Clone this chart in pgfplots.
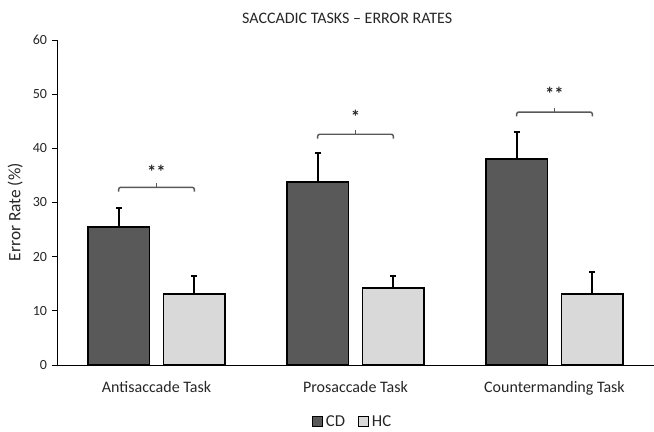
\documentclass[border=0pt]{standalone}
\usepackage{fontspec}
\setmainfont{Carlito}
\usepackage{pgfplots}
\pgfplotsset{compat=1.18}
\definecolor{cdfill}{HTML}{595959}
\definecolor{hcfill}{HTML}{D9D9D9}
\definecolor{brk}{HTML}{595959}
\begin{document}
\begin{tikzpicture}[x=1pt,y=1pt]
\path[use as bounding box] (-42.75,-50.25) rectangle (447.75,273.75);
\begin{axis}[
  at={(0,0)}, anchor=south west,
  scale only axis, width=447.75pt, height=243.75pt,
  xmin=-0.5, xmax=2.5, ymin=0, ymax=60,
  ytick={0,10,...,60},
  xtick={0,1,2},
  xticklabels={Antisaccade Task,Prosaccade Task,Countermanding Task},
  major x tick style={draw=none},
  axis x line*=bottom, axis y line*=left,
  axis line style={black, line width=0.6pt},
  y axis line style={-},
  x axis line style={-},
  tick align=outside,
  major tick length=4pt,
  ytick style={black, line width=0.6pt},
  yticklabel style={font=\fontsize{10.5}{12}\selectfont, text=black!85},
  xticklabel style={font=\fontsize{12}{14}\selectfont, text=black!85, yshift=-4.5pt},
  /pgf/number format/assume math mode=true,
  ylabel={Error Rate (\%)},
  every axis y label/.style={at={(axis description cs:-0.07,0.47)}, rotate=90, anchor=center, font=\fontsize{13}{14}\selectfont, text=black!85},
  ybar, bar width=0.31,
  error bars/y dir=plus, error bars/y explicit,
  error bars/error bar style={black, line width=1.3pt},
  error bars/error mark options={black, line width=1.3pt, mark size=2.2pt, rotate=90},
  legend style={at={(0.496,-0.175)}, anchor=center, draw=none, legend columns=2,
     font=\fontsize{12.5}{14}\selectfont, text=black!85,
     /tikz/every even column/.append style={column sep=8pt}},
  legend image code/.code={\draw[#1, line width=0.8pt] (0pt,-3.7pt) rectangle (7.4pt,3.7pt);},
  clip=false,
]
\addplot[fill=cdfill, draw=black, line width=1.3pt, bar shift=-0.19]
  coordinates {(0,25.5) +- (0,3.5) (1,33.8) +- (0,5.4) (2,38.0) +- (0,5.0)};
\addplot[fill=hcfill, draw=black, line width=1.3pt, bar shift=0.19]
  coordinates {(0,13.1) +- (0,3.3) (1,14.2) +- (0,2.2) (2,13.1) +- (0,4.1)};
\legend{CD,HC}
% significance brackets
\draw[brk, line width=1.1pt, rounded corners=1.5pt] (axis cs:-0.19,32.0) -- (axis cs:-0.19,32.8) -- (axis cs:0.19,32.8) -- (axis cs:0.19,32.0);
\draw[brk, line width=1.1pt] (axis cs:0,32.8) -- (axis cs:0,33.6);
\draw[brk, line width=1.1pt, rounded corners=1.5pt] (axis cs:0.81,41.8) -- (axis cs:0.81,42.6) -- (axis cs:1.19,42.6) -- (axis cs:1.19,41.8);
\draw[brk, line width=1.1pt] (axis cs:1,42.6) -- (axis cs:1,43.4);
\draw[brk, line width=1.1pt, rounded corners=1.5pt] (axis cs:1.81,45.9) -- (axis cs:1.81,46.7) -- (axis cs:2.19,46.7) -- (axis cs:2.19,45.9);
\draw[brk, line width=1.1pt] (axis cs:2,46.7) -- (axis cs:2,47.5);
\node[font=\fontsize{14}{15}\selectfont\bfseries, text=black!85] at (axis cs:0,35.7) {**};
\node[font=\fontsize{14}{15}\selectfont\bfseries, text=black!85] at (axis cs:1,45.8) {*};
\node[font=\fontsize{14}{15}\selectfont\bfseries, text=black!85] at (axis cs:2,50.1) {**};
\node[font=\fontsize{12}{14}\selectfont, text=black!85] at (axis description cs:0.486,1.068) {SACCADIC TASKS -- ERROR RATES};
\end{axis}
\end{tikzpicture}
\end{document}
